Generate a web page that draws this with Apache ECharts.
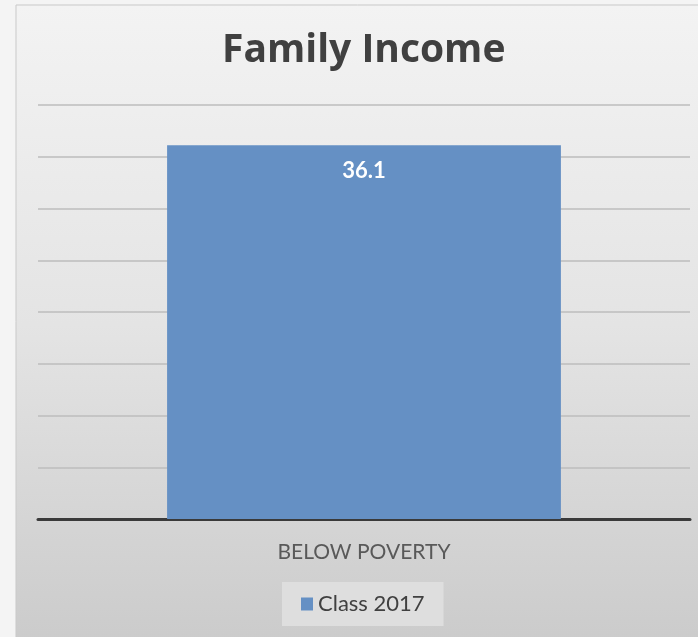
<!DOCTYPE html>
<html>
<head>
<meta charset="utf-8">
<script src="https://cdn.jsdelivr.net/npm/echarts@6/dist/echarts.min.js"></script>
<style>
  html, body { margin: 0; padding: 0; background: #f4f4f4; }
  #chart { width: 698px; height: 637px; }
</style>
</head>
<body>
<div id="chart"></div>
<script>
// Family income chart: share of the class below the poverty line
const categories = ['BELOW POVERTY'];
const seriesName = 'Class 2017';
const values = [36.1];
const axisMin = 0;
const axisMax = 40;
const axisStep = 5;

const chart = echarts.init(document.getElementById('chart'), null, { renderer: 'canvas' });

chart.setOption({
  animation: false,
  backgroundColor: 'transparent',
  graphic: [
    {
      type: 'rect',
      z: -10,
      shape: { x: 16, y: 5, width: 690, height: 640 },
      style: {
        fill: new echarts.graphic.LinearGradient(0, 0, 0, 1, [
          { offset: 0, color: '#f3f3f3' },
          { offset: 0.5, color: '#e4e4e4' },
          { offset: 1, color: '#cbcbcb' }
        ]),
        stroke: '#c9c9c9',
        lineWidth: 1
      }
    }
  ],
  title: {
    text: 'Family Income',
    left: 217,
    top: 26,
    textStyle: {
      fontFamily: 'Open Sans',
      fontWeight: 'bold',
      fontSize: 39,
      color: '#404040'
    }
  },
  grid: { left: 38, right: 8, top: 105, bottom: 118, containLabel: false },
  xAxis: {
    type: 'category',
    data: categories,
    axisLine: { show: true, lineStyle: { color: '#3a3a3a', width: 3 } },
    axisTick: { show: false },
    axisLabel: {
      margin: 23,
      fontFamily: 'Lato',
      fontSize: 21,
      color: '#595959'
    }
  },
  yAxis: {
    type: 'value',
    min: axisMin,
    max: axisMax,
    interval: axisStep,
    axisLabel: { show: false },
    axisLine: { show: false },
    axisTick: { show: false },
    splitLine: { lineStyle: { color: '#bdbdbd', width: 1.5 } }
  },
  legend: {
    bottom: 11,
    left: 282,
    data: [seriesName],
    icon: 'rect',
    itemWidth: 12,
    itemHeight: 13,
    itemGap: 7,
    padding: [11, 19, 11, 19],
    backgroundColor: '#dedede',
    textStyle: { fontFamily: 'Lato', fontSize: 22, color: '#404040' }
  },
  series: [
    {
      name: seriesName,
      type: 'bar',
      data: values,
      barWidth: '60.4%',
      itemStyle: { color: '#6590c4' },
      label: {
        show: true,
        position: 'insideTop',
        distance: 15,
        fontFamily: 'Lato',
        fontWeight: 'bold',
        fontSize: 22,
        color: '#ffffff'
      }
    }
  ]
});
</script>
</body>
</html>
